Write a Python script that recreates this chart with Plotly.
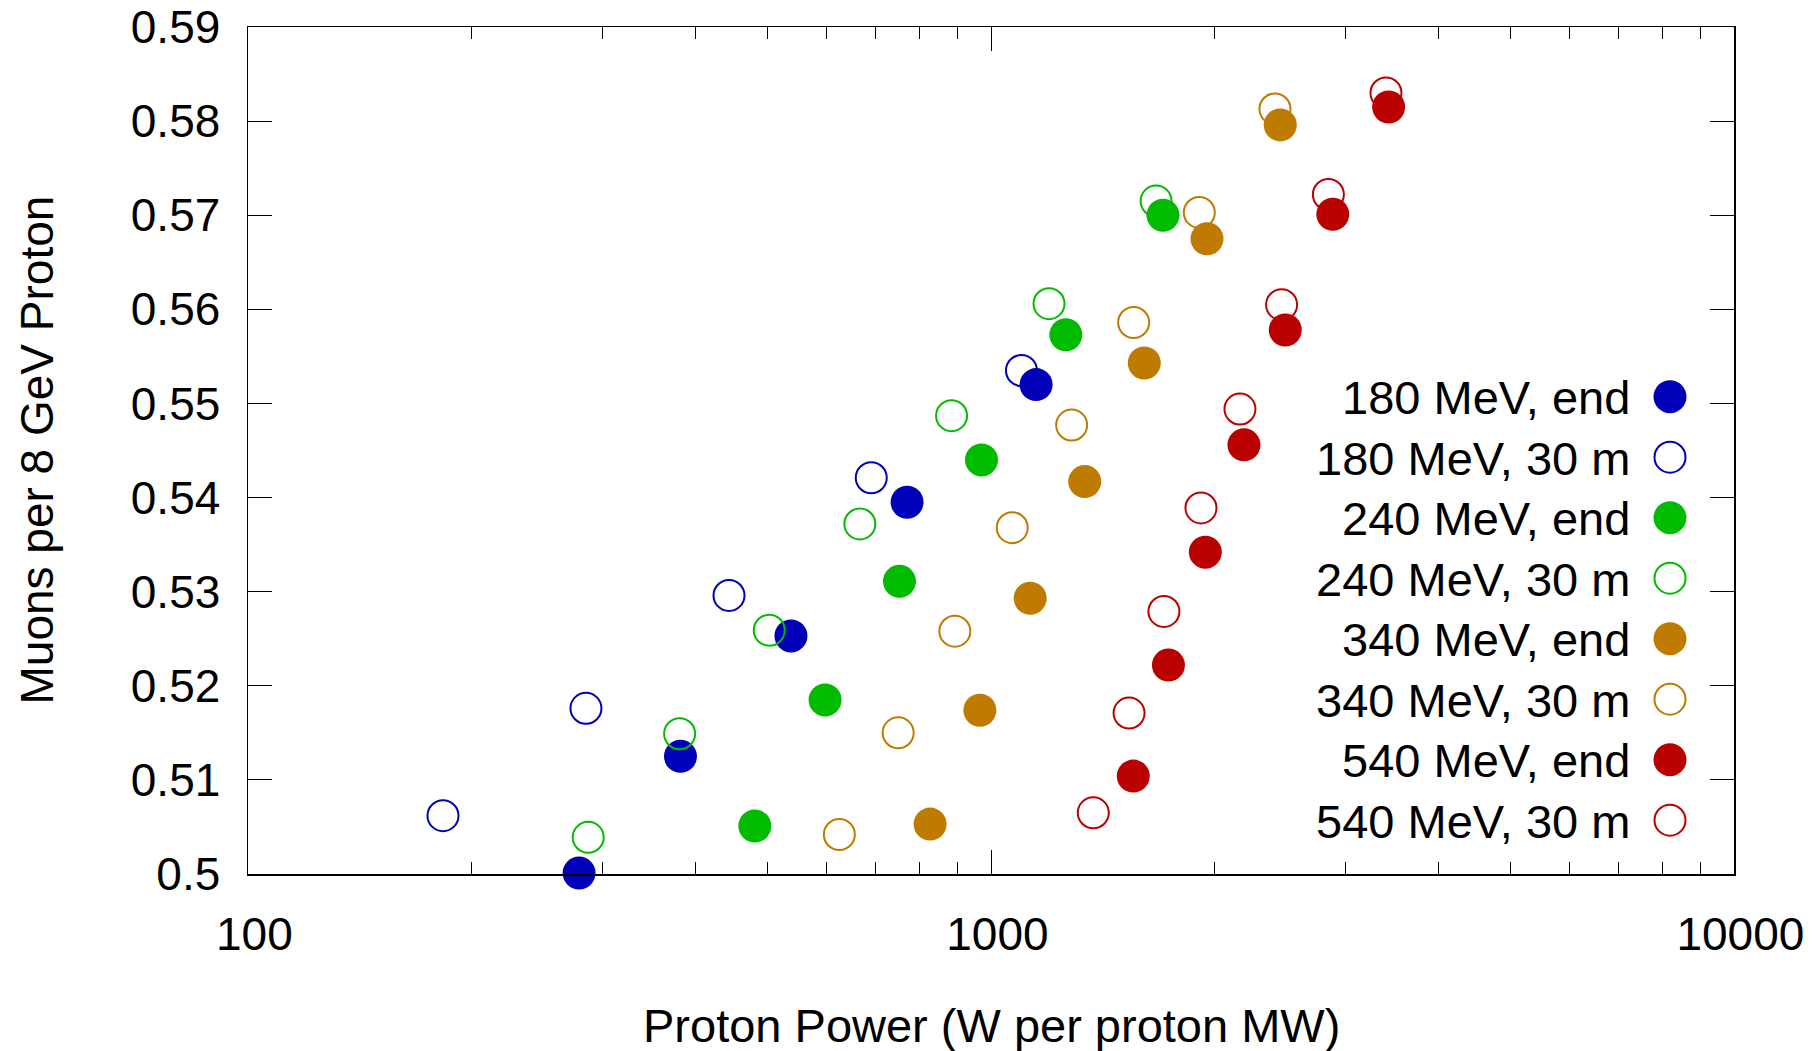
import plotly.graph_objects as go

# ---- data ----
e180_end_x = [279, 382, 538, 771, 1150]
e180_end_y = [0.5001, 0.5125, 0.5253, 0.5395, 0.5520]
e180_30m_x = [183, 285, 444, 690, 1099]
e180_30m_y = [0.5062, 0.5176, 0.5296, 0.5421, 0.5535]

e240_end_x = [481, 598, 753, 971, 1261, 1704]
e240_end_y = [0.5051, 0.5185, 0.5311, 0.5440, 0.5573, 0.5700]
e240_30m_x = [287, 381, 503, 666, 885, 1197, 1668]
e240_30m_y = [0.5039, 0.5149, 0.5259, 0.5372, 0.5487, 0.5606, 0.5715]

e340_end_x = [828, 966, 1129, 1337, 1608, 1953, 2451]
e340_end_y = [0.5053, 0.5174, 0.5293, 0.5417, 0.5543, 0.5675, 0.5796]
e340_30m_x = [625, 750, 894, 1068, 1284, 1556, 1907, 2411]
e340_30m_y = [0.5042, 0.5150, 0.5258, 0.5368, 0.5477, 0.5586, 0.5703, 0.5813]

e540_end_x = [1554, 1733, 1943, 2190, 2489, 2884, 3429]
e540_end_y = [0.5104, 0.5222, 0.5342, 0.5456, 0.5578, 0.5701, 0.5815]
e540_30m_x = [1373, 1534, 1709, 1917, 2163, 2461, 2845, 3401]
e540_30m_y = [0.5065, 0.5171, 0.5279, 0.5389, 0.5494, 0.5605, 0.5722, 0.5830]

legend_labels = ["180 MeV, end", "180 MeV, 30 m", "240 MeV, end", "240 MeV, 30 m",
                 "340 MeV, end", "340 MeV, 30 m", "540 MeV, end", "540 MeV, 30 m"]

x_tick_vals = [100, 1000, 10000]
x_tick_text = ["100", "1000", "10000"]
x_minor_vals = [200, 300, 400, 500, 600, 700, 800, 900,
                2000, 3000, 4000, 5000, 6000, 7000, 8000, 9000]

# ---- styles ----
BLUE = "#0000b8"
GREEN = "#00bb00"
ORANGE = "#bf7a00"
RED = "#bb0000"
FONT = "Liberation Sans, Arial, sans-serif"
FS = 46
LEG_FS = 47
TITLE_FS = 47
FILLED_SIZE = 33
OPEN_SIZE = 31
OPEN_LW = 2

W, H = 1812, 1051
L, R, T, B = 248, 78, 27, 177
plot_w = W - L - R
plot_h = H - T - B


def px_to_paper_x(px):
    return (px - L) / plot_w


def px_to_paper_y(py):
    return (H - B - py) / plot_h


def marker(color, filled):
    if filled:
        return dict(symbol="circle", size=FILLED_SIZE, color=color, line=dict(width=0))
    return dict(symbol="circle-open", size=OPEN_SIZE, color=color, line=dict(width=OPEN_LW, color=color))


series = [
    # drawing order: open then filled for each energy
    (e180_30m_x, e180_30m_y, BLUE, False),
    (e180_end_x, e180_end_y, BLUE, True),
    (e240_30m_x, e240_30m_y, GREEN, False),
    (e240_end_x, e240_end_y, GREEN, True),
    (e340_30m_x, e340_30m_y, ORANGE, False),
    (e340_end_x, e340_end_y, ORANGE, True),
    (e540_30m_x, e540_30m_y, RED, False),
    (e540_end_x, e540_end_y, RED, True),
]

fig = go.Figure()
for xs, ys, col, filled in series:
    fig.add_trace(go.Scatter(x=xs, y=ys, mode="markers", marker=marker(col, filled),
                             showlegend=False, cliponaxis=False, hoverinfo="skip"))

# ---- custom legend (text left, symbol right) ----
legend_styles = [(BLUE, True), (BLUE, False), (GREEN, True), (GREEN, False),
                 (ORANGE, True), (ORANGE, False), (RED, True), (RED, False)]
row0 = 396.7
row_step = 60.5
text_right_px = 1632
marker_x_px = 1670
annotations = []
for i, (lab, (col, filled)) in enumerate(zip(legend_labels, legend_styles)):
    ypx = row0 + i * row_step
    fig.add_trace(go.Scatter(x=[px_to_paper_x(marker_x_px)], y=[px_to_paper_y(ypx)],
                             xaxis="x2", yaxis="y2", mode="markers",
                             marker=marker(col, filled), showlegend=False,
                             cliponaxis=False, hoverinfo="skip"))
    annotations.append(dict(text=lab, xref="paper", yref="paper",
                            x=px_to_paper_x(text_right_px), y=px_to_paper_y(ypx + 1),
                            xanchor="right", yanchor="middle", showarrow=False,
                            font=dict(family=FONT, size=LEG_FS, color="black")))

# axis titles as annotations
annotations.append(dict(text="Proton Power (W per proton MW)", xref="paper", yref="paper",
                        x=0.5, y=px_to_paper_y(1025), xanchor="center", yanchor="middle",
                        showarrow=False, font=dict(family=FONT, size=TITLE_FS, color="black")))
annotations.append(dict(text="Muons per 8 GeV Proton", xref="paper", yref="paper",
                        x=px_to_paper_x(36), y=0.5, xanchor="center", yanchor="middle",
                        textangle=-90, showarrow=False,
                        font=dict(family=FONT, size=FS, color="black")))

fig.update_layout(
    width=W, height=H, autosize=False,
    margin=dict(l=L, r=R, t=T, b=B, pad=0, autoexpand=False),
    paper_bgcolor="white", plot_bgcolor="white",
    font=dict(family=FONT, size=FS, color="black"),
    showlegend=False,
    annotations=annotations,
    xaxis=dict(
        type="log", range=[2, 4], automargin=False,
        tickmode="array", tickvals=x_tick_vals,
        # leading no-break space nudges labels right, as in the reference
        ticktext=["\u00a0" + t for t in x_tick_text],
        ticks="inside", ticklen=24, tickwidth=1, tickcolor="black",
        minor=dict(tickmode="array", tickvals=x_minor_vals, ticks="inside",
                   ticklen=12, tickwidth=1, tickcolor="black", showgrid=False),
        showline=True, linecolor="black", linewidth=1.5, mirror="ticks",
        showgrid=False, zeroline=False,
        ticklabelstandoff=19,
        tickfont=dict(family=FONT, size=FS, color="black"),
    ),
    yaxis=dict(
        range=[0.5, 0.59], tickmode="linear", tick0=0.5, dtick=0.01, automargin=False,
        ticks="inside", ticklen=24, tickwidth=1, tickcolor="black",
        showline=True, linecolor="black", linewidth=1.5, mirror="ticks",
        showgrid=False, zeroline=False,
        ticklabelstandoff=17,
        tickfont=dict(family=FONT, size=FS, color="black"),
    ),
    xaxis2=dict(overlaying="x", anchor="y2", range=[0, 1], visible=False,
                showgrid=False, zeroline=False, automargin=False),
    yaxis2=dict(overlaying="y", anchor="x2", range=[0, 1], visible=False,
                showgrid=False, zeroline=False, automargin=False),
)

fig.write_html(
    "out.html",
    config={"displayModeBar": False, "staticPlot": True},
    post_script="document.body.style.margin='0';document.body.style.padding='0';"
                "document.body.style.overflow='hidden';window.scrollTo(0,0);",
)
